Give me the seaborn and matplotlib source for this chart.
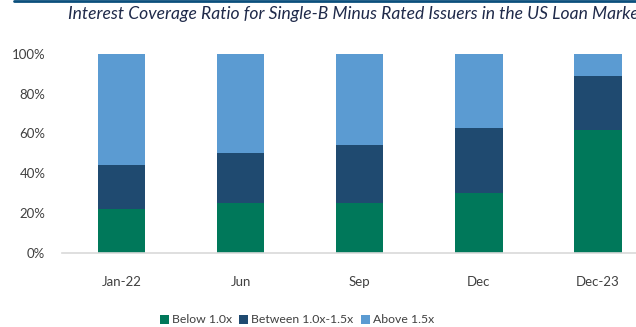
import matplotlib
matplotlib.use("Agg")
import matplotlib.pyplot as plt
import seaborn as sns
import pandas as pd
import numpy as np
from matplotlib.patches import Patch
from matplotlib.lines import Line2D

periods = ["Jan-22", "Jun", "Sep", "Dec", "Dec-23"]
below_1x = [22, 25, 25, 30, 62]
between_1x_15x = [22, 25, 29, 33, 27]
above_15x = [56, 50, 46, 37, 11]

series_names = ["Below 1.0x", "Between 1.0x-1.5x", "Above 1.5x"]
colors = ["#00785a", "#1f4a70", "#5b9bd2"]

sns.set_theme(style="white")
plt.rcParams["font.family"] = ["Lato", "DejaVu Sans"]

df = pd.DataFrame({
    "period": periods,
    "below": below_1x,
    "between": between_1x_15x,
    "above": above_15x,
})
df["top_between"] = df["below"] + df["between"]
df["top_above"] = df["top_between"] + df["above"]

fig = plt.figure(figsize=(6.36, 3.27), dpi=100)
ax = fig.add_axes([0.0975, 0.227, 0.936, 0.608])

# stacked bars drawn as cumulative layers, tallest first
for col, color in zip(["top_above", "top_between", "below"], colors[::-1]):
    sns.barplot(data=df, x="period", y=col, order=periods, color=color,
                width=0.40, saturation=1, ax=ax, linewidth=0)

ax.set_ylim(0, 100)
ax.set_xlim(-0.5, 4.5)
ax.set_yticks([0, 20, 40, 60, 80, 100])
ax.set_yticklabels([f"{v}%" for v in [0, 20, 40, 60, 80, 100]])
ax.set_xlabel("")
ax.set_ylabel("")
for s in ["top", "right", "left"]:
    ax.spines[s].set_visible(False)
ax.spines["bottom"].set_color("#d9d9d9")
ax.spines["bottom"].set_linewidth(1.2)
ax.tick_params(axis="y", length=0, pad=12, labelsize=9.5, labelcolor="#404040")
ax.tick_params(axis="x", length=0, pad=17, labelsize=9.5, labelcolor="#404040")

ax.set_title("Interest Coverage Ratio for Single-B Minus Rated Issuers in the US Loan Market",
             fontsize=12.6, style="italic", color="#1f2a4a", pad=25, x=0.495)

handles = [Patch(facecolor=c, edgecolor="none") for c in colors]
fig.legend(handles, series_names, loc="center", bbox_to_anchor=(0.467, 0.022),
           ncol=3, frameon=False, fontsize=8.8, handlelength=0.75, handleheight=0.75,
           handletextpad=0.25, columnspacing=0.6, labelcolor="#404040")

# thin rule along the top edge
fig.add_artist(Line2D([0.022, 1.0], [0.997, 0.997], transform=fig.transFigure,
                      color="#0b4f7c", linewidth=2))

fig.savefig("out.png", dpi=100)
